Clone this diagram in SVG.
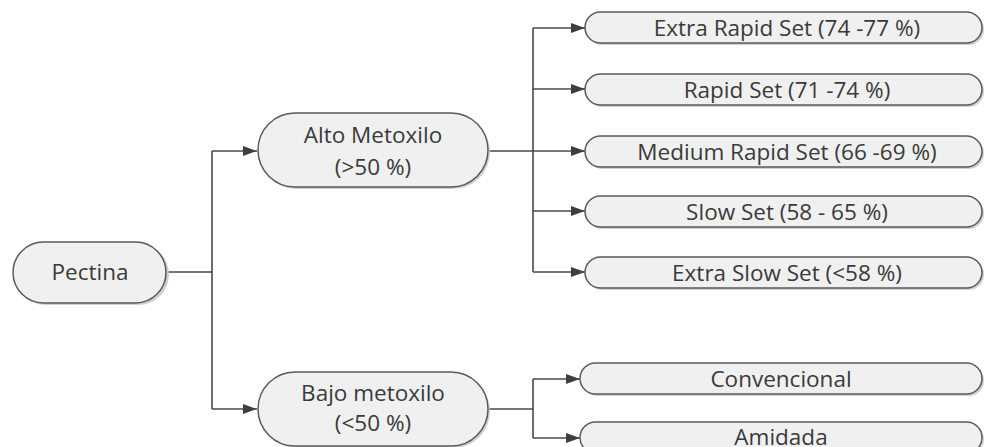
<svg xmlns="http://www.w3.org/2000/svg" width="985" height="447" viewBox="0 0 985 447">
<style>
.box{fill:#f0f0f0;stroke:#5a5a5a;stroke-width:1.5}
.sh{fill:#d0d0d0;stroke:none}
.t{font-family:"Open Sans","Liberation Sans",sans-serif;font-size:22.5px;fill:#3a3a3a;text-anchor:middle}
.c{fill:none;stroke:#4a4a4a;stroke-width:1.6}
</style>
<defs>
<marker id="ah" viewBox="0 0 14 10" refX="14" refY="5" markerWidth="14" markerHeight="10" markerUnits="userSpaceOnUse" orient="auto">
<path d="M0,0 L14,5 L0,10 Z" fill="#3e3e3e"/>
</marker>
</defs>
<rect width="985" height="447" fill="#ffffff"/>
<g id="connectors">
<path class="c" d="M166,272 H212 M212,151 V409"/>
<path class="c" d="M212,151 H257" marker-end="url(#ah)"/>
<path class="c" d="M212,409 H257" marker-end="url(#ah)"/>
<path class="c" d="M488,151 H533 M533,28 V272"/>
<path class="c" d="M533,28 H585" marker-end="url(#ah)"/>
<path class="c" d="M533,89 H585" marker-end="url(#ah)"/>
<path class="c" d="M533,151 H585" marker-end="url(#ah)"/>
<path class="c" d="M533,211 H585" marker-end="url(#ah)"/>
<path class="c" d="M533,272 H585" marker-end="url(#ah)"/>
<path class="c" d="M488,409 H533 M533,379 V438"/>
<path class="c" d="M533,379 H580" marker-end="url(#ah)"/>
<path class="c" d="M533,438 H580" marker-end="url(#ah)"/>
</g>
<g id="pectina">
<rect class="sh" x="15" y="244" width="154" height="61" rx="30.5"/>
<rect class="box" x="13" y="242" width="153" height="61" rx="30.5"/>
<text class="t" x="90" y="280">Pectina</text>
</g>
<g id="alto">
<rect class="sh" x="260" y="115" width="230" height="74" rx="37"/>
<rect class="box" x="258" y="113" width="230" height="74" rx="37"/>
<text class="t" x="373" y="143">Alto Metoxilo</text>
<text class="t" x="373" y="175">(&gt;50 %)</text>
</g>
<g id="bajo">
<rect class="sh" x="260" y="374" width="230" height="74" rx="37"/>
<rect class="box" x="258" y="372" width="230" height="74" rx="37"/>
<text class="t" x="373" y="401">Bajo metoxilo</text>
<text class="t" x="373" y="431">(&lt;50 %)</text>
</g>
<g id="extra-rapid">
<rect class="sh" x="587" y="14" width="397" height="31" rx="15.5"/>
<rect class="box" x="585" y="12" width="397" height="31" rx="15.5"/>
<text class="t" x="787" y="36">Extra Rapid Set (74 -77 %)</text>
</g>
<g id="rapid">
<rect class="sh" x="587" y="76" width="397" height="31" rx="15.5"/>
<rect class="box" x="585" y="74" width="397" height="31" rx="15.5"/>
<text class="t" x="787" y="98">Rapid Set (71 -74 %)</text>
</g>
<g id="medium-rapid">
<rect class="sh" x="587" y="138" width="397" height="31" rx="15.5"/>
<rect class="box" x="585" y="136" width="397" height="31" rx="15.5"/>
<text class="t" x="787" y="160">Medium Rapid Set (66 -69 %)</text>
</g>
<g id="slow">
<rect class="sh" x="587" y="198" width="397" height="31" rx="15.5"/>
<rect class="box" x="585" y="196" width="397" height="31" rx="15.5"/>
<text class="t" x="787" y="220">Slow Set (58 - 65 %)</text>
</g>
<g id="extra-slow">
<rect class="sh" x="587" y="259" width="397" height="31" rx="15.5"/>
<rect class="box" x="585" y="257" width="397" height="31" rx="15.5"/>
<text class="t" x="787" y="281">Extra Slow Set (&lt;58 %)</text>
</g>
<g id="convencional">
<rect class="sh" x="582" y="365" width="402" height="31" rx="15.5"/>
<rect class="box" x="580" y="363" width="402" height="31" rx="15.5"/>
<text class="t" x="781" y="387">Convencional</text>
</g>
<g id="amidada">
<rect class="sh" x="582" y="424" width="402" height="31" rx="15.5"/>
<rect class="box" x="580" y="422" width="402" height="31" rx="15.5"/>
<text class="t" x="781" y="445">Amidada</text>
</g>
</svg>
